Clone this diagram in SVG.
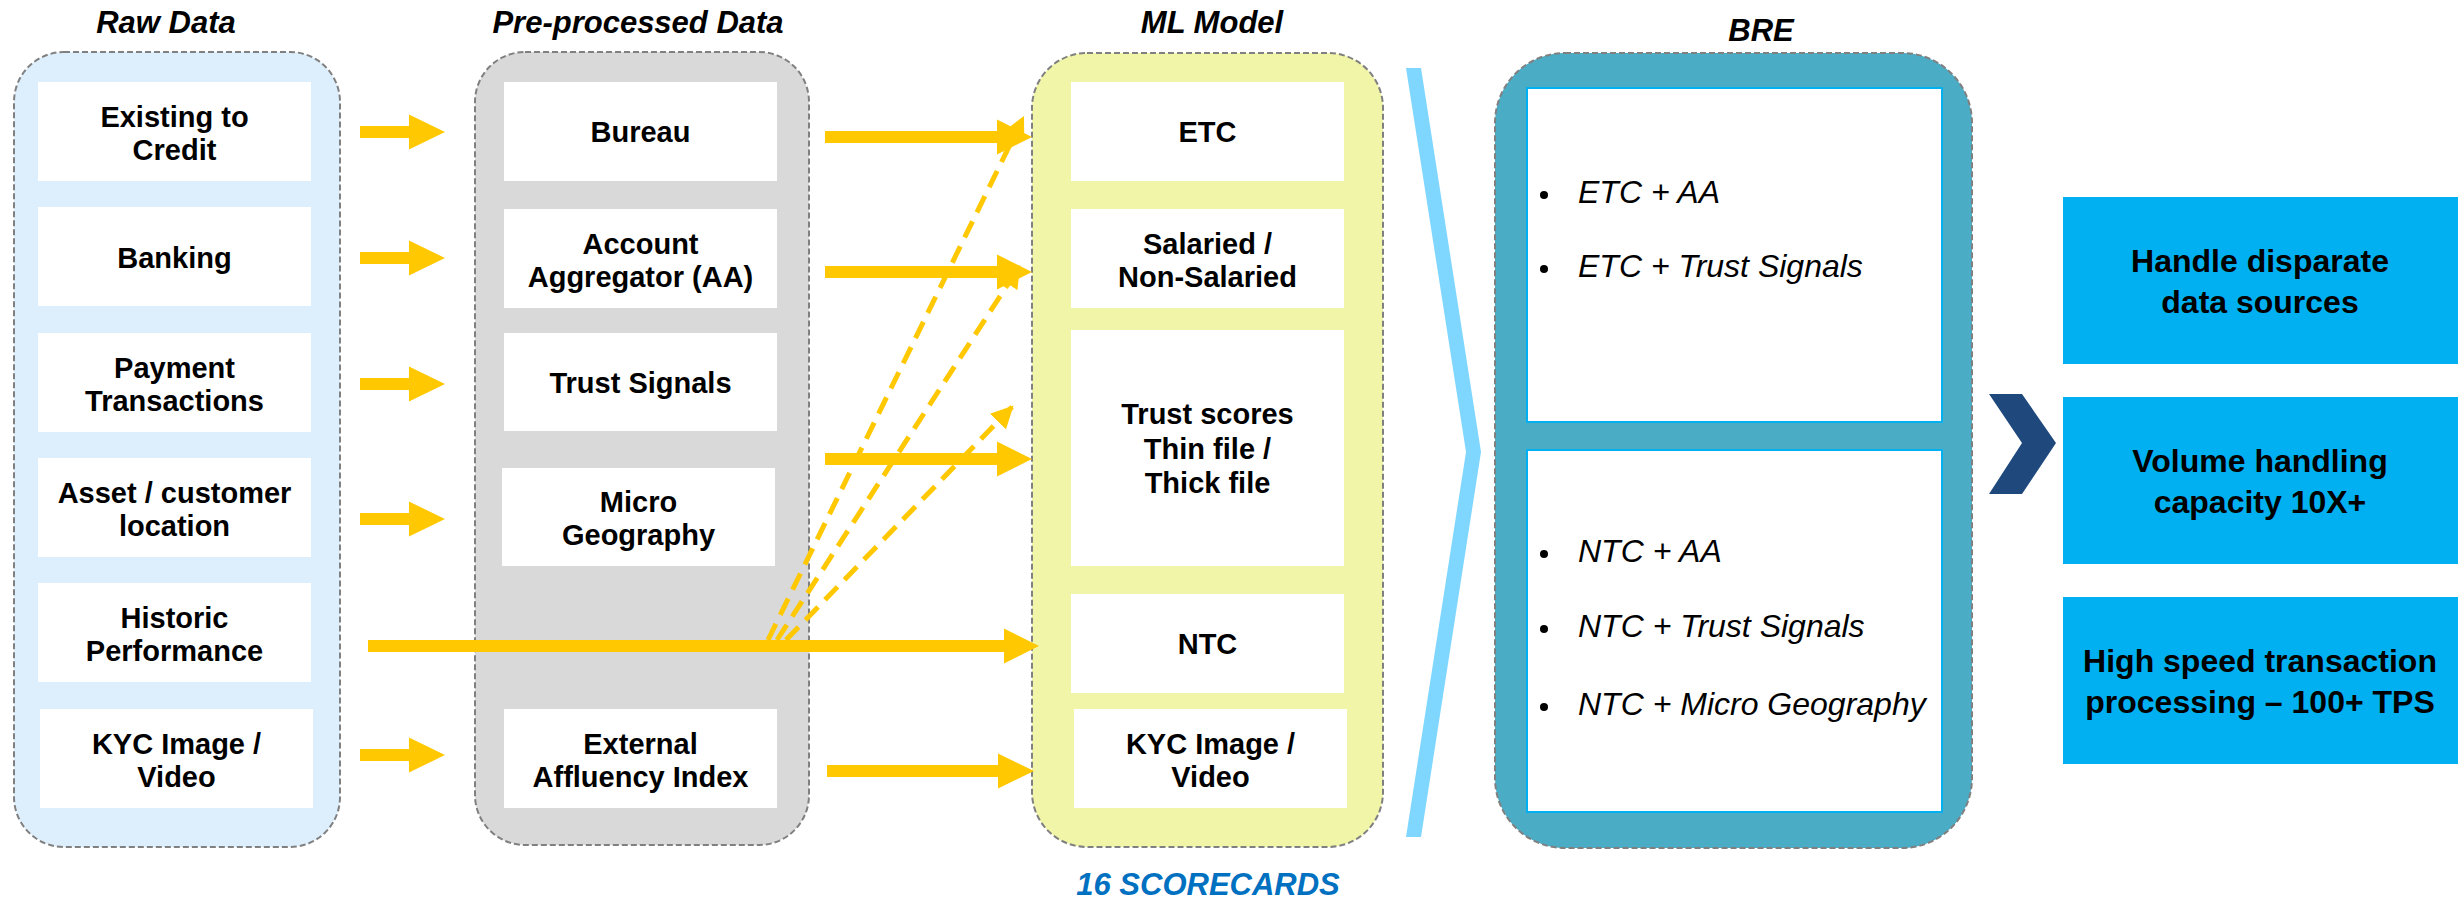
<svg xmlns="http://www.w3.org/2000/svg" width="2458" height="903" viewBox="0 0 2458 903">
<style>
.title{font-family:"Liberation Sans",Arial,sans-serif;font-weight:bold;font-style:italic;font-size:31px;fill:#000;text-anchor:middle}
.lbl{font-family:"Liberation Sans",Arial,sans-serif;font-weight:bold;font-size:29px;fill:#000;text-anchor:middle}
.bul{font-family:"Liberation Sans",Arial,sans-serif;font-style:italic;font-size:32px;fill:#000}
.ben{font-family:"Liberation Sans",Arial,sans-serif;font-weight:bold;font-size:32px;fill:#000;text-anchor:middle}
.cont{stroke:#808080;stroke-width:2;stroke-dasharray:6 3}
.box{fill:#fff}
.arrow{fill:#FFC800}
.dash{fill:none;stroke:#FFC800;stroke-width:5;stroke-dasharray:18 10}
.bene{fill:#00B0F0}
</style>
<defs>
<marker id="dh" viewBox="0 0 10 10" refX="9" refY="5" markerWidth="4.5" markerHeight="4.5" markerUnits="strokeWidth" orient="auto">
<path d="M0,0 L10,5 L0,10 z" fill="#FFC800"/>
</marker>
</defs>

<!-- Titles -->
<text class="title" x="166" y="33">Raw Data</text>
<text class="title" x="638" y="33">Pre-processed Data</text>
<text class="title" x="1212" y="33">ML Model</text>
<text class="title" x="1761" y="41">BRE</text>

<!-- Raw Data -->
<g id="raw">
<rect class="cont" x="14" y="52" width="326" height="795" rx="50" fill="#DDEFFD"/>
<g id="raw-etc"><rect class="box" x="38" y="82" width="273" height="99"/><text class="lbl" x="174.5" y="127">Existing to</text><text class="lbl" x="174.5" y="160">Credit</text></g>
<g id="raw-banking"><rect class="box" x="38" y="207" width="273" height="99"/><text class="lbl" x="174.5" y="268">Banking</text></g>
<g id="raw-payment"><rect class="box" x="38" y="333" width="273" height="99"/><text class="lbl" x="174.5" y="378">Payment</text><text class="lbl" x="174.5" y="411">Transactions</text></g>
<g id="raw-asset"><rect class="box" x="38" y="458" width="273" height="99"/><text class="lbl" x="174.5" y="503">Asset / customer</text><text class="lbl" x="174.5" y="536">location</text></g>
<g id="raw-historic"><rect class="box" x="38" y="583" width="273" height="99"/><text class="lbl" x="174.5" y="628">Historic</text><text class="lbl" x="174.5" y="661">Performance</text></g>
<g id="raw-kyc"><rect class="box" x="40" y="709" width="273" height="99"/><text class="lbl" x="176.5" y="754">KYC Image /</text><text class="lbl" x="176.5" y="787">Video</text></g>
</g>

<!-- Pre-processed -->
<g id="pre">
<rect class="cont" x="475" y="52" width="334" height="793" rx="50" fill="#D9D9D9"/>
<g id="pre-bureau"><rect class="box" x="504" y="82" width="273" height="99"/><text class="lbl" x="640.5" y="142">Bureau</text></g>
<g id="pre-aa"><rect class="box" x="504" y="209" width="273" height="99"/><text class="lbl" x="640.5" y="254">Account</text><text class="lbl" x="640.5" y="287">Aggregator (AA)</text></g>
<g id="pre-trust"><rect class="box" x="504" y="333" width="273" height="98"/><text class="lbl" x="640.5" y="393">Trust Signals</text></g>
<g id="pre-micro"><rect class="box" x="502" y="468" width="273" height="98"/><text class="lbl" x="638.5" y="512">Micro</text><text class="lbl" x="638.5" y="545">Geography</text></g>
<g id="pre-ext"><rect class="box" x="504" y="709" width="273" height="99"/><text class="lbl" x="640.5" y="754">External</text><text class="lbl" x="640.5" y="787">Affluency Index</text></g>
</g>

<!-- ML Model -->
<g id="ml">
<rect class="cont" x="1032" y="53" width="351" height="794" rx="55" fill="#F1F5A8"/>
<g id="ml-etc"><rect class="box" x="1071" y="82" width="273" height="99"/><text class="lbl" x="1207.5" y="142">ETC</text></g>
<g id="ml-sal"><rect class="box" x="1071" y="209" width="273" height="99"/><text class="lbl" x="1207.5" y="254">Salaried /</text><text class="lbl" x="1207.5" y="287">Non-Salaried</text></g>
<g id="ml-trust"><rect class="box" x="1071" y="330" width="273" height="236"/><text class="lbl" x="1207.5" y="424">Trust scores</text><text class="lbl" x="1207.5" y="459">Thin file /</text><text class="lbl" x="1207.5" y="493">Thick file</text></g>
<g id="ml-ntc"><rect class="box" x="1071" y="594" width="273" height="99"/><text class="lbl" x="1207.5" y="654">NTC</text></g>
<g id="ml-kyc"><rect class="box" x="1074" y="709" width="273" height="99"/><text class="lbl" x="1210.5" y="754">KYC Image /</text><text class="lbl" x="1210.5" y="787">Video</text></g>
<text x="1208" y="895" style="font-family:'Liberation Sans',Arial,sans-serif;font-weight:bold;font-style:italic;font-size:31px;fill:#0070C0;text-anchor:middle">16 SCORECARDS</text>
</g>

<!-- divider chevron -->
<g id="divider">
<polygon points="1406,68 1421,68 1481,452 1421,837 1406,837 1466,452" fill="#7FD7FF"/>
</g>

<!-- BRE -->
<g id="bre">
<rect class="cont" x="1495" y="53" width="477" height="795" rx="70" fill="#4BACC6"/>
<g id="bre-etc">
<rect x="1527" y="88" width="415" height="334" fill="#fff" stroke="#00B0F0" stroke-width="2"/>
<circle cx="1544" cy="195" r="4"/><text class="bul" x="1578" y="203">ETC + AA</text>
<circle cx="1544" cy="269" r="4"/><text class="bul" x="1578" y="277">ETC + Trust Signals</text>
</g>
<g id="bre-ntc">
<rect x="1527" y="450" width="415" height="362" fill="#fff" stroke="#00B0F0" stroke-width="2"/>
<circle cx="1544" cy="554" r="4"/><text class="bul" x="1578" y="562">NTC + AA</text>
<circle cx="1544" cy="629" r="4"/><text class="bul" x="1578" y="637">NTC + Trust Signals</text>
<circle cx="1544" cy="707" r="4"/><text class="bul" x="1578" y="715">NTC + Micro Geography</text>
</g>
</g>

<!-- chevron to benefits -->
<g id="chevron">
<polygon points="1989,394 2022,394 2056,443 2022,494 1989,494 2022,443" fill="#1F497D"/>
</g>

<!-- Benefits -->
<g id="benefit-1"><rect class="bene" x="2063" y="197" width="395" height="167"/><text class="ben" x="2260" y="272">Handle disparate</text><text class="ben" x="2260" y="313">data sources</text></g>
<g id="benefit-2"><rect class="bene" x="2063" y="397" width="395" height="167"/><text class="ben" x="2260" y="472">Volume handling</text><text class="ben" x="2260" y="513">capacity 10X+</text></g>
<g id="benefit-3"><rect class="bene" x="2063" y="597" width="395" height="167"/><text class="ben" x="2260" y="672">High speed transaction</text><text class="ben" x="2260" y="713">processing – 100+ TPS</text></g>

<!-- Connectors -->
<g id="connectors">
<polygon class="arrow" points="360,126 409,126 409,114.5 445,132 409,149.5 409,138 360,138"/>
<polygon class="arrow" points="360,252 409,252 409,240.5 445,258 409,275.5 409,264 360,264"/>
<polygon class="arrow" points="360,378 409,378 409,366.5 445,384 409,401.5 409,390 360,390"/>
<polygon class="arrow" points="360,513 409,513 409,501.5 445,519 409,536.5 409,525 360,525"/>
<polygon class="arrow" points="360,749 409,749 409,737.5 445,755 409,772.5 409,761 360,761"/>

<polyline class="dash" points="768,640 1023,118" marker-end="url(#dh)"/>
<polyline class="dash" points="777,640 1019,267" marker-end="url(#dh)"/>
<polyline class="dash" points="786,640 1012,407" marker-end="url(#dh)"/>

<polygon class="arrow" points="825,131 997,131 997,119.5 1032,137 997,154.5 997,143 825,143"/>
<polygon class="arrow" points="825,266 997,266 997,254.5 1032,272 997,289.5 997,278 825,278"/>
<polygon class="arrow" points="825,453 997,453 997,441.5 1032,459 997,476.5 997,465 825,465"/>
<polygon class="arrow" points="368,640 1004,640 1004,628.5 1039,646 1004,663.5 1004,652 368,652"/>
<polygon class="arrow" points="827,765 998,765 998,753.5 1034,771 998,788.5 998,777 827,777"/>
</g>
</svg>
